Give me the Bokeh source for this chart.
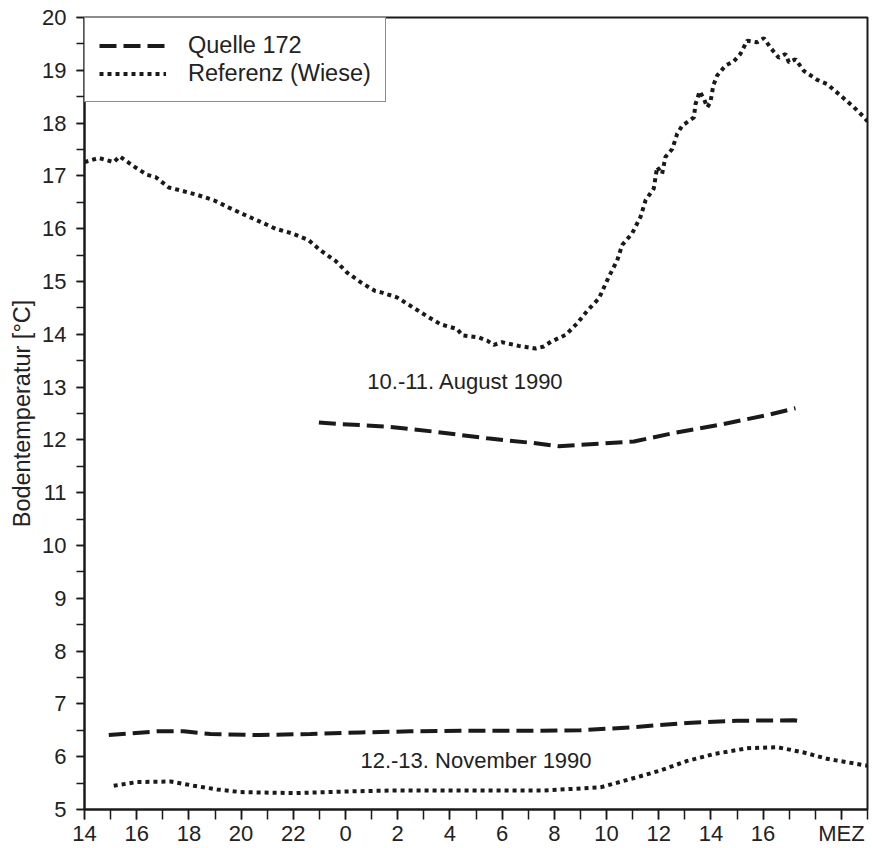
from bokeh.plotting import figure
from bokeh.models import Range1d, FixedTicker, Legend, LegendItem, Label
from bokeh.embed import file_html
from bokeh.resources import INLINE

# ---- data (hours since 14:00 of day 1; 24 = midnight) ----
aug_ref_hours = [14.0, 14.55, 15.12, 15.35, 15.89, 16.4, 16.72, 17.23, 17.8, 18.32, 18.95, 19.53,
                 20.1, 20.74, 21.32, 21.96, 22.57, 23.04, 23.62, 24.06, 24.63, 25.14, 25.4, 25.97,
                 26.55, 27.1, 27.64, 28.28, 28.47, 29.11, 29.43, 29.68, 30.0, 30.64, 31.28, 31.6,
                 31.87, 32.44, 32.88, 33.27, 33.71, 34.09, 34.41, 34.6, 34.98, 35.3, 35.5, 35.81,
                 35.94, 36.13, 36.26, 36.52, 36.71, 36.9, 37.35, 37.41, 37.57, 37.73, 37.86, 37.98,
                 38.09, 38.24, 38.56, 38.88, 39.13, 39.39, 39.77, 40.03, 40.28, 40.6, 40.86, 40.99,
                 41.24, 41.56, 42.07, 42.45, 42.97, 43.48, 43.87, 44.0]
aug_ref_temp = [17.26, 17.34, 17.26, 17.37, 17.18, 17.02, 16.98, 16.78, 16.71, 16.64, 16.54, 16.40,
                16.27, 16.13, 16.0, 15.91, 15.79, 15.59, 15.39, 15.17, 14.97, 14.82, 14.79, 14.70,
                14.52, 14.35, 14.19, 14.10, 13.98, 13.94, 13.88, 13.80, 13.85, 13.78, 13.73, 13.77,
                13.86, 13.99, 14.21, 14.45, 14.68, 15.09, 15.40, 15.69, 15.91, 16.22, 16.54, 16.76,
                17.17, 17.04, 17.36, 17.51, 17.80, 17.95, 18.11, 18.36, 18.60, 18.46, 18.30, 18.39,
                18.71, 18.90, 19.09, 19.17, 19.31, 19.56, 19.53, 19.61, 19.43, 19.24, 19.31, 19.15,
                19.21, 18.99, 18.82, 18.74, 18.52, 18.30, 18.11, 18.03]

aug_q_hours = [22.98, 23.81, 25.66, 27.51, 29.43, 31.21, 32.17, 33.77, 35.05, 36.58, 38.37, 40.16, 41.24]
aug_q_temp = [12.33, 12.30, 12.25, 12.15, 12.03, 11.94, 11.88, 11.93, 11.97, 12.13, 12.29, 12.47, 12.60]

nov_q_hours = [14.93, 16.78, 17.8, 18.83, 20.74, 22.66, 24.57, 26.49, 28.4, 30.96, 33.0, 35.05,
               37.09, 39.0, 41.18, 41.56]
nov_q_temp = [6.41, 6.48, 6.48, 6.43, 6.41, 6.43, 6.46, 6.48, 6.49, 6.49, 6.50, 6.56,
              6.64, 6.68, 6.69, 6.66]

nov_ref_hours = [15.12, 16.02, 17.3, 18.19, 19.08, 19.98, 22.02, 23.94, 25.85, 29.05, 31.6, 33.77,
                 34.5, 35.3, 36.07, 37.09, 38.11, 39.39, 40.54, 41.56, 42.45, 43.87, 44.0]
nov_ref_temp = [5.45, 5.52, 5.53, 5.45, 5.38, 5.33, 5.31, 5.34, 5.36, 5.36, 5.36, 5.42,
                5.52, 5.63, 5.74, 5.92, 6.05, 6.16, 6.18, 6.08, 5.96, 5.84, 5.83]

x_tick_values = [14, 16, 18, 20, 22, 24, 26, 28, 30, 32, 34, 36, 38, 40, 43]
x_tick_labels = ["14", "16", "18", "20", "22", "0", "2", "4", "6", "8", "10", "12", "14", "16", "MEZ"]
x_minor = list(range(14, 45))
y_ticks = list(range(5, 21))
y_minor = [v / 2 for v in range(10, 41)]

series_labels = ["Quelle 172", "Referenz (Wiese)"]
annot_aug = "10.-11. August 1990"
annot_nov = "12.-13. November 1990"

FONT = "Liberation Sans"
TXT = "#222222"
LINE = "#1a1a1a"

p = figure(width=872, height=848, output_backend="svg", toolbar_location=None,
           x_range=Range1d(14, 44), y_range=Range1d(5, 20),
           min_border_left=84, min_border_right=5, min_border_top=17, min_border_bottom=37)
p.background_fill_color = "white"
p.border_fill_color = "white"
p.outline_line_color = LINE
p.outline_line_width = 2
p.xgrid.visible = False
p.ygrid.visible = False

dash_style = "17 7"
dot_style = "4 4"

r_aq = p.line(aug_q_hours, aug_q_temp, line_color=LINE, line_width=4, line_dash=dash_style)
r_ar = p.line(aug_ref_hours, aug_ref_temp, line_color=LINE, line_width=4, line_dash=dot_style)
p.line(nov_q_hours, nov_q_temp, line_color=LINE, line_width=4, line_dash=dash_style)
p.line(nov_ref_hours, nov_ref_temp, line_color=LINE, line_width=4, line_dash=dot_style)

# axes
xa = p.xaxis[0]
xa.ticker = FixedTicker(ticks=x_tick_values, minor_ticks=x_minor)
xa.major_label_overrides = {v: l for v, l in zip(x_tick_values, x_tick_labels)}
ya = p.yaxis[0]
ya.ticker = FixedTicker(ticks=y_ticks, minor_ticks=y_minor)
ya.axis_label = "Bodentemperatur [°C]"

for ax, tl in ((xa, 10), (ya, 8)):
    ax.axis_line_color = LINE
    ax.axis_line_width = 2
    ax.major_tick_in = 0
    ax.minor_tick_in = 0
    ax.major_tick_out = tl
    ax.minor_tick_out = tl
    ax.major_tick_line_color = LINE
    ax.minor_tick_line_color = LINE
    ax.major_tick_line_width = 1.5
    ax.minor_tick_line_width = 1.5
    ax.major_label_text_font = FONT
    ax.major_label_text_font_size = "22px"
    ax.major_label_text_color = TXT
    ax.axis_label_text_font = FONT
    ax.axis_label_text_font_size = "23.5px"
    ax.axis_label_text_font_style = "normal"
    ax.axis_label_text_color = TXT
xa.major_label_standoff = 1
ya.major_label_standoff = 10
ya.axis_label_standoff = 4

legend = Legend(items=[LegendItem(label=series_labels[0], renderers=[r_aq]),
                       LegendItem(label=series_labels[1], renderers=[r_ar])],
                location="top_left", margin=0, padding=14, spacing=1,
                glyph_width=67, glyph_height=27, label_standoff=22,
                label_text_font=FONT, label_text_font_size="23.5px", label_text_color=TXT,
                border_line_color=LINE, border_line_width=1, background_fill_alpha=1.0)
p.add_layout(legend)

p.add_layout(Label(x=28.6, y=13.1, text=annot_aug, text_align="center", text_baseline="middle",
                   text_font=FONT, text_font_size="22px", text_color=TXT))
p.add_layout(Label(x=29.0, y=5.92, text=annot_nov, text_align="center", text_baseline="middle",
                   text_font=FONT, text_font_size="22px", text_color=TXT))

open("out.html", "w").write(file_html(p, INLINE))
